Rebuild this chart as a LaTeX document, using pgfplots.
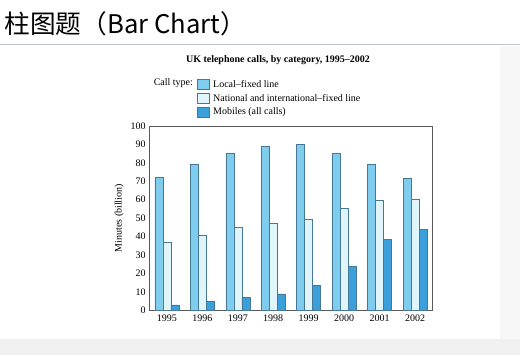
\documentclass[border=0pt]{standalone}
\usepackage{pgfplots}
\pgfplotsset{compat=1.18}
\usepackage{fontspec}
\setmainfont{Liberation Serif}
\newfontfamily\cjk{Noto Sans CJK SC}
\definecolor{localc}{RGB}{126,204,238}
\definecolor{natc}{RGB}{224,245,250}
\definecolor{mobc}{RGB}{58,159,219}
\definecolor{edgec}{RGB}{70,120,150}
\begin{document}
\begin{tikzpicture}
\fill[white] (0,0) rectangle (520pt,-356pt);
\fill[gray!12] (0,-340pt) rectangle (520pt,-356pt);
\fill[gray!6] (500pt,-46pt) rectangle (520pt,-340pt);
\draw[color={rgb,255:red,184;green,196;blue,206}, line width=0.8pt] (0,-44pt) -- (520pt,-44pt);
\node[anchor=west, inner sep=0pt, font=\cjk\fontsize{25.7}{30}\selectfont] at (4pt,-24pt) {柱图题（Bar Chart）};
\node[anchor=center, inner sep=0pt, font=\bfseries\fontsize{10}{12}\selectfont] at (278pt,-60pt) {UK telephone calls, by category, 1995--2002};
\node[anchor=east, inner sep=0pt, font=\fontsize{10}{12}\selectfont] at (193pt,-83pt) {Call type:};
\begin{axis}[
  at={(149pt,-311pt)}, anchor=south west,
  scale only axis, width=284pt, height=185pt,
  ybar=0pt, bar width=8pt,
  xmin=-0.5, xmax=7.5, ymin=0, ymax=100,
  xtick=data, xticklabels={1995,1996,1997,1998,1999,2000,2001,2002},
  ytick={0,10,...,100},
  major tick length=0pt,
  axis line style={color=gray!70!black, line width=0.5pt},
  tick label style={font=\fontsize{10}{12}\selectfont},
  /pgf/number format/assume math mode=true,
  xticklabel style={yshift=-1pt},
  ylabel={Minutes (billion)},
  ylabel style={font=\fontsize{10}{12}\selectfont},
  legend style={at={(0.169,1.26)}, anchor=north west, draw=none, fill=none,
    font=\fontsize{10}{12}\selectfont, inner sep=0pt, row sep=1.5pt,
    legend cell align=left, nodes={inner xsep=4pt}},
  legend image code/.code={\draw[#1, draw=edgec, line width=0.4pt] (0pt,-5pt) rectangle (11.5pt,5pt);},
]
\addplot[fill=localc, draw=edgec, line width=0.4pt] coordinates {(0,72) (1,79) (2,85) (3,89) (4,90) (5,85) (6,79) (7,71.5)};
\addplot[fill=natc, draw=edgec, line width=0.4pt] coordinates {(0,37) (1,41) (2,45) (3,47.5) (4,49.5) (5,55.5) (6,59.5) (7,60.5)};
\addplot[fill=mobc, draw=edgec, line width=0.4pt] coordinates {(0,3) (1,5) (2,7) (3,9) (4,13.5) (5,24) (6,38.5) (7,44)};
\legend{Local--fixed line, National and international--fixed line, Mobiles (all calls)}
\end{axis}
\end{tikzpicture}
\end{document}
